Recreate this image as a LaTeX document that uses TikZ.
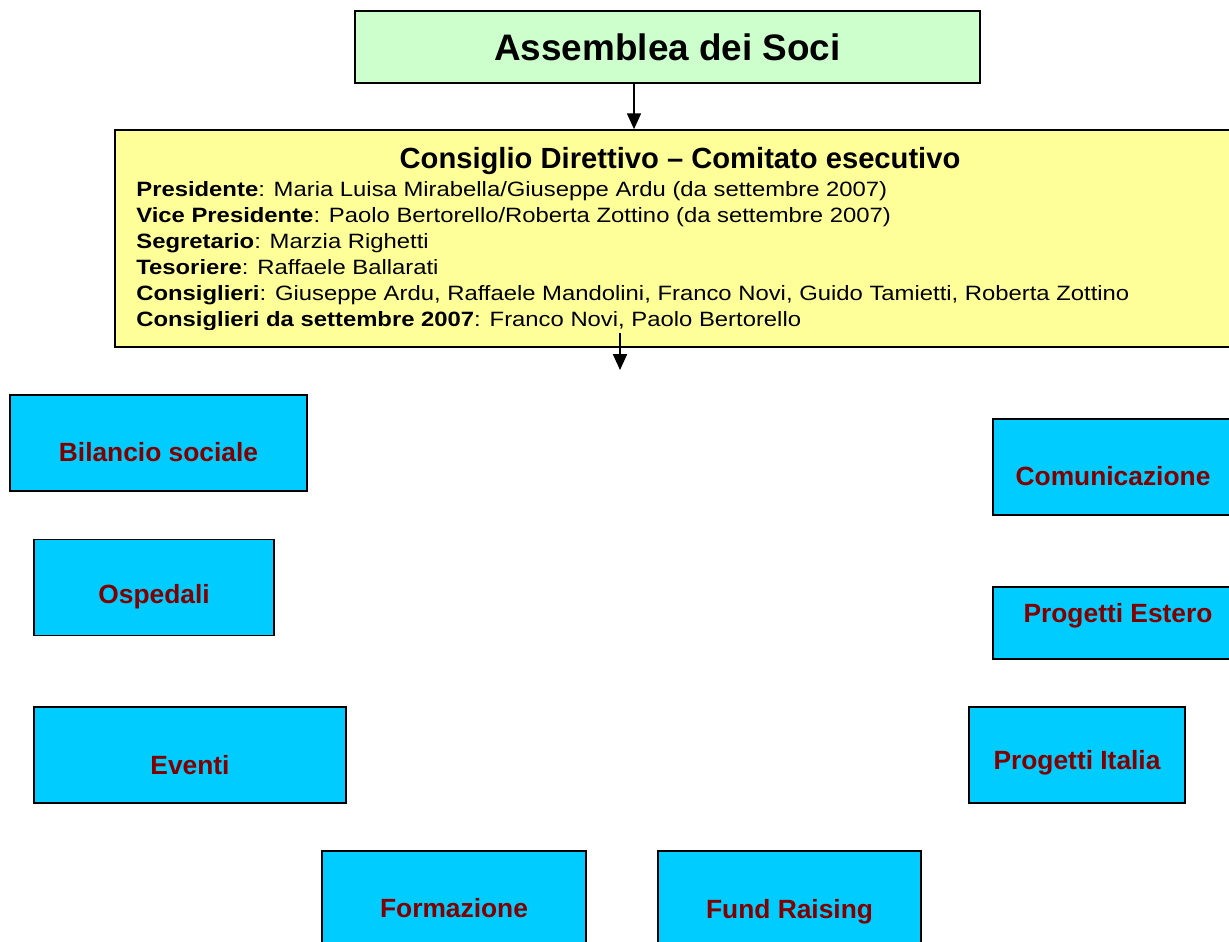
\documentclass[tikz,border=0pt]{standalone}
\usepackage{fontspec}
\setmainfont{Liberation Sans}
\newfontfamily\widesans[FakeStretch=1.15]{Liberation Sans}
\usetikzlibrary{arrows.meta}
\definecolor{soci}{HTML}{CCFFCC}
\definecolor{direttivo}{HTML}{FFFF99}
\definecolor{area}{HTML}{00CCFF}
\definecolor{areatext}{HTML}{800000}

\begin{document}
\begin{tikzpicture}[
  x=0.02cm,y=-0.02cm,
  box/.style={draw, line width=1pt, inner sep=0pt},
  unit/.style={box, fill=area, minimum height=1.92cm},
  unittext/.style={font=\fontsize{15}{18}\selectfont\bfseries, text=areatext},
  member/.style={anchor=base west, inner sep=0pt, font=\widesans\fontsize{11.8}{14}\selectfont},
  link/.style={-{Triangle[width=8pt,length=9pt]}, line width=0.8pt}
]
\clip (0,0) rectangle (1229,941);

% assemblea e consiglio
\node[box, fill=soci, minimum width=12.5cm, minimum height=1.44cm,
  font=\fontsize{21}{25}\selectfont\bfseries] (soci) at (667.5,47) {Assemblea dei Soci};
\node[box, fill=direttivo, minimum width=22.6cm, minimum height=4.34cm] (cd) at (680,238.5) {};
\node[anchor=base, inner sep=0pt, font=\fontsize{16.6}{19}\selectfont\bfseries]
  (cdtitle) at (680,168) {Consiglio Direttivo – Comitato esecutivo};

\begin{scope}
\clip (115,130) rectangle (1245,329);
\foreach \role/\names [count=\i from 0] in {
  Presidente/{Maria Luisa Mirabella/Giuseppe Ardu (da settembre 2007)},
  Vice Presidente/{Paolo Bertorello/Roberta Zottino (da settembre 2007)},
  Segretario/{Marzia Righetti},
  Tesoriere/{Raffaele Ballarati},
  Consiglieri/{Giuseppe Ardu, Raffaele Mandolini, Franco Novi, Guido Tamietti, Roberta Zottino},
  Consiglieri da settembre 2007/{Franco Novi, Paolo Bertorello}}
  \node[member] (m\i) at (136,196.5+26*\i) {\textbf{\role}: \names};
\end{scope}

\draw[link] ([xshift=-0.67cm]soci.south) -- ([xshift=-0.67cm]soci.south |- cd.north);
\coordinate (cdout) at (620,333);
\coordinate (cdend) at (620,370);
\draw[link] (cdout) -- (cdend);

% aree di lavoro
\node[unit, minimum width=5.94cm, label={[unittext,yshift=-0.18cm]center:Bilancio sociale}] (bilancio) at (158.5,443) {};
\node[unit, minimum width=4.8cm, label={[unittext,yshift=-0.19cm]center:Ospedali}] (ospedali) at (154,587.5) {};
\node[unit, minimum width=6.24cm, label={[unittext,yshift=-0.2cm]center:Eventi}] (eventi) at (190,755) {};
\node[unit, minimum width=5.28cm, label={[unittext,yshift=-0.18cm]center:Formazione}] (formazione) at (454,899) {};
\node[unit, minimum width=5.26cm, label={[unittext,yshift=-0.26cm]center:Fund Raising}] (fund) at (789.5,899) {};
\node[unit, minimum width=4.32cm, label={[unittext,yshift=-0.16cm]center:Progetti Italia}] (italia) at (1077,755) {};
\node[unit, minimum width=5cm, minimum height=1.44cm, label={[unittext,yshift=0.14cm]center:Progetti Estero}] (estero) at (1118,623) {};
\node[unit, minimum width=4.8cm, label={[unittext,yshift=-0.18cm]center:Comunicazione}] (comunicazione) at (1113,467) {};
\end{tikzpicture}
\end{document}
